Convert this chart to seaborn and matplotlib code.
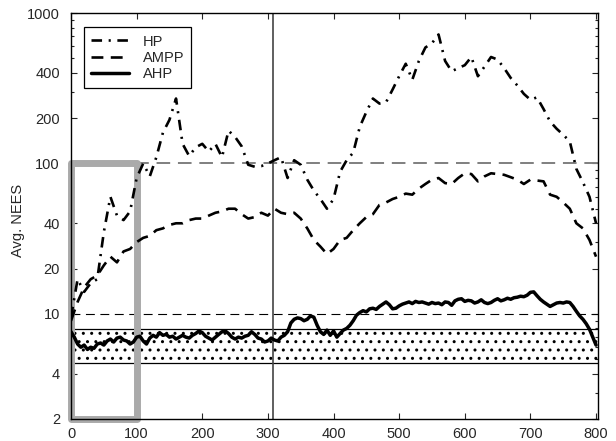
import numpy as np
import pandas as pd
import matplotlib
matplotlib.use("Agg")
import matplotlib.pyplot as plt
import seaborn as sns
from matplotlib.patches import Rectangle
from matplotlib.ticker import FixedLocator, LogLocator, NullFormatter

# values
hp_x = np.arange(0, 801, 10)
hp = [9.5, 17, 14, 16, 17, 35, 60, 45, 42, 48,
      80, 100, 82, 110, 160, 195, 270, 135, 112, 128,
      135, 120, 135, 110, 165, 150, 130, 98, 95, 96,
      100, 105, 110, 80, 105, 98, 78, 66, 58, 50,
      58, 88, 105, 118, 175, 220, 270, 250, 255, 310,
      380, 460, 360, 480, 590, 630, 720, 480, 410, 430,
      450, 510, 380, 440, 510, 490, 430, 370, 330, 290,
      265, 275, 230, 190, 170, 155, 140, 92, 75, 60,
      40]

ampp_x = np.arange(0, 801, 10)
ampp = [9, 12, 15, 17, 18, 21, 24, 22, 26, 27,
        30, 32, 33, 36, 37, 39, 40, 40, 42, 43,
        43, 45, 47, 48, 50, 50, 46, 43, 44, 47,
        45, 50, 47, 46, 47, 43, 37, 31, 28, 25,
        27, 31, 32, 36, 40, 44, 46, 53, 55, 58,
        60, 63, 62, 68, 73, 78, 80, 74, 73, 80,
        86, 85, 76, 82, 86, 85, 84, 81, 78, 73,
        78, 77, 76, 62, 60, 55, 50, 40, 37, 31,
        24]

ahp_x = np.arange(0, 801, 5)
ahp = [7.6, 7.0, 6.3, 6.0, 6.2, 5.8, 6.0, 5.9, 6.3, 6.4,
       6.2, 6.6, 6.8, 6.5, 6.9, 7.0, 6.7, 6.6, 6.3, 6.5,
       7.0, 7.1, 6.6, 6.3, 6.9, 7.2, 7.0, 7.5, 7.2, 7.3,
       7.0, 7.1, 6.8, 7.0, 7.2, 7.0, 6.9, 7.2, 7.4, 7.7,
       7.5, 7.1, 6.9, 6.7, 7.0, 7.3, 7.6, 7.7, 7.4, 7.0,
       6.8, 7.0, 6.9, 7.1, 7.2, 7.6, 7.3, 6.9, 6.8, 6.5,
       6.6, 6.9, 6.7, 6.6, 7.0, 7.2, 7.6, 8.7, 9.2, 9.4,
       9.3, 9.0, 9.2, 9.7, 9.5, 8.4, 7.6, 7.3, 7.8, 7.2,
       7.7, 7.0, 7.4, 7.8, 8.0, 8.4, 9.0, 9.8, 10.2, 10.5,
       10.3, 10.8, 10.9, 10.7, 11.2, 11.6, 12.0, 11.5, 10.8, 10.9,
       11.3, 11.6, 11.8, 12.0, 11.7, 12.1, 11.9, 12.0, 11.8, 11.6,
       11.9, 11.7, 11.8, 11.5, 12.0, 11.9, 11.4, 12.2, 12.5, 12.6,
       12.1, 12.3, 12.2, 11.8, 12.0, 12.4, 11.9, 11.7, 11.9, 12.3,
       12.6, 12.2, 12.4, 12.7, 12.5, 12.8, 12.9, 13.1, 13.0, 13.3,
       13.9, 14.0, 13.2, 12.5, 12.0, 11.6, 11.2, 11.5, 11.8, 11.9,
       11.8, 12.0, 11.9, 11.2, 10.4, 9.7, 9.2, 8.6, 7.9, 7.0,
       6.2]

upper_ref = 100    # grey dashed reference
lower_ref = 10     # black dashed reference
band_lo, band_hi = 4.7, 7.9
split_x = 308
zoom_box = (0, 2, 100, 100)   # x0, y0, x1, y1

y_ticks = [2, 4, 10, 20, 40, 100, 200, 400, 1000]
x_ticks = [0, 100, 200, 300, 400, 500, 600, 700, 800]

sns.set_style("ticks")
plt.rcParams["font.family"] = ["Liberation Sans", "DejaVu Sans"]
plt.rcParams["hatch.linewidth"] = 1.0

fig = plt.figure(figsize=(6.16, 4.41), dpi=100)
ax = fig.add_axes([0.1153, 0.0499, 0.8555, 0.9206])

# confidence band with dotted fill
ax.axhspan(band_lo, band_hi, facecolor="none", edgecolor="black", hatch="..", linewidth=0, zorder=1)
ax.axhline(band_lo, color="black", lw=0.9, zorder=1.2)
ax.axhline(band_hi, color="black", lw=0.9, zorder=1.2)
ax.axhline(upper_ref, color="#7f7f7f", lw=1.4, dashes=(7, 4), zorder=1.2)
ax.axhline(lower_ref, color="black", lw=0.8, dashes=(8, 5), zorder=1.2)
ax.axvline(split_x, color="#444444", lw=1.2, zorder=1.2)

rect = Rectangle((zoom_box[0], zoom_box[1]), zoom_box[2] - zoom_box[0], zoom_box[3] - zoom_box[1],
                 facecolor="none", edgecolor="#aaaaaa", lw=5, clip_on=False, zorder=1.5,
                 joinstyle="round")
ax.add_patch(rect)

sns.lineplot(x=hp_x, y=hp, ax=ax, color="black", lw=1.9, label="HP",
             linestyle=(0, (4, 2.5, 0.8, 2.5)), estimator=None, zorder=3)
sns.lineplot(x=ampp_x, y=ampp, ax=ax, color="black", lw=1.9, label="AMPP",
             linestyle=(0, (4.5, 2.8)), estimator=None, zorder=3)
sns.lineplot(x=ahp_x, y=ahp, ax=ax, color="black", lw=2.5, label="AHP",
             estimator=None, zorder=3)

ax.set_yscale("log")
ax.set_ylim(2, 1000)
ax.set_xlim(0, 803)
ax.yaxis.set_major_locator(FixedLocator(y_ticks))
ax.set_yticklabels([str(t) for t in y_ticks])
ax.yaxis.set_minor_locator(LogLocator(base=10, subs=np.arange(2, 10)))
ax.yaxis.set_minor_formatter(NullFormatter())
ax.set_xticks(x_ticks)
ax.set_xticklabels([str(t) for t in x_ticks])

ax.tick_params(which="both", direction="in", top=True, right=True, labelsize=10.5, width=0.8)
ax.tick_params(which="major", length=4)
ax.tick_params(which="minor", length=2)
ax.tick_params(axis="y", pad=8)
ax.tick_params(axis="x", pad=6)
for s in ax.spines.values():
    s.set_linewidth(1.0)
    s.set_color("black")

ax.set_xlabel("")
ax.set_ylabel("Avg. NEES", fontsize=10.5)
ax.yaxis.set_label_coords(-0.087, 0.49)

leg = ax.legend(loc="upper left", bbox_to_anchor=(0.025, 0.965), borderaxespad=0,
                fontsize=10.5, frameon=True, fancybox=False, edgecolor="black",
                handlelength=2.6, handletextpad=0.9, labelspacing=0.15, borderpad=0.5)
leg.get_frame().set_linewidth(0.9)
leg.get_frame().set_alpha(1)

fig.savefig("out.png", dpi=100)
